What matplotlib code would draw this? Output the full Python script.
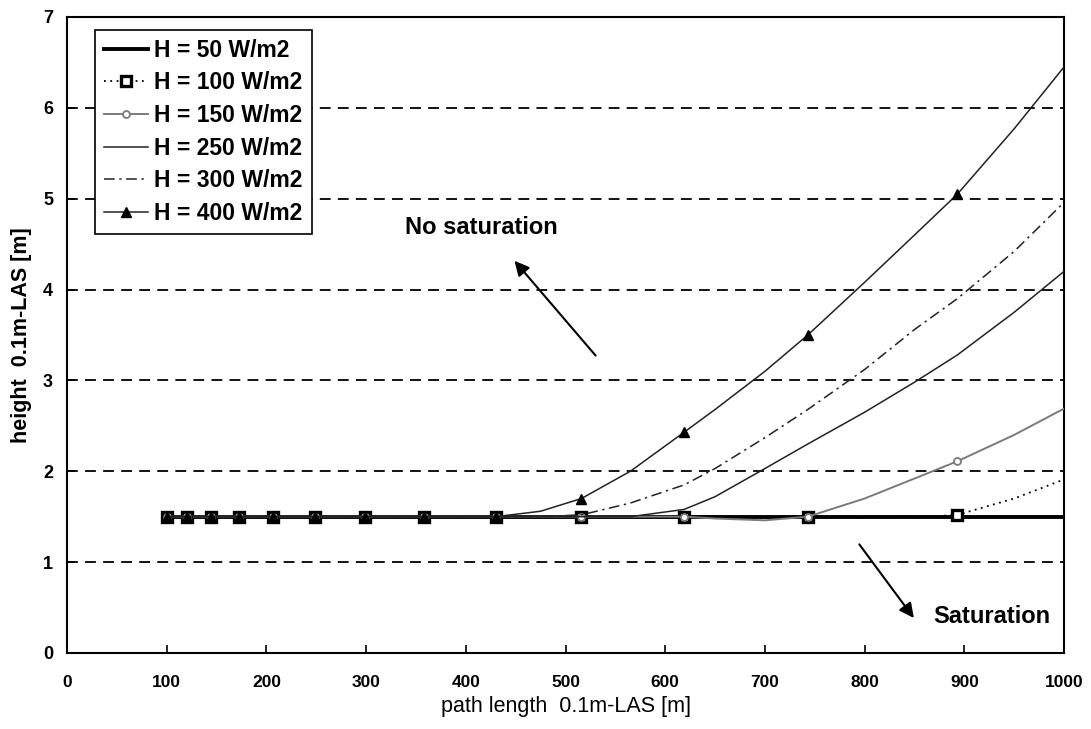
import matplotlib
matplotlib.use("Agg")
import matplotlib.pyplot as plt

# path length grid [m] (markers sit on the 1.2-ratio points)
path = [100, 120, 144, 173, 207, 249, 299, 358, 430, 475, 516, 565, 619,
        650, 700, 743, 800, 850, 893, 950, 1000]
marker_idx = [0, 1, 2, 3, 4, 5, 6, 7, 8, 10, 12, 15, 18]

flat = [1.5] * 9
h50 = flat + [1.5, 1.5, 1.5, 1.5, 1.5, 1.5, 1.5, 1.5, 1.5, 1.5, 1.5, 1.5]
h100 = flat + [1.5, 1.5, 1.5, 1.5, 1.5, 1.5, 1.5, 1.49, 1.49, 1.52, 1.7, 1.91]
h150 = flat + [1.5, 1.5, 1.5, 1.5, 1.48, 1.46, 1.5, 1.7, 1.92, 2.11, 2.4, 2.69]
h250 = flat + [1.5, 1.5, 1.5, 1.58, 1.72, 2.03, 2.3, 2.65, 2.98, 3.28, 3.75, 4.2]
h300 = flat + [1.5, 1.52, 1.65, 1.85, 2.03, 2.37, 2.68, 3.12, 3.56, 3.9, 4.42, 4.96]
h400 = flat + [1.56, 1.7, 2.0, 2.43, 2.68, 3.1, 3.5, 4.08, 4.6, 5.05, 5.77, 6.45]

labels = ['H = 50 W/m2', 'H = 100 W/m2', 'H = 150 W/m2',
          'H = 250 W/m2', 'H = 300 W/m2', 'H = 400 W/m2']

plt.rcParams['font.family'] = ['Liberation Sans', 'DejaVu Sans']

fig = plt.figure(figsize=(10.91, 7.29), dpi=100)
ax = fig.add_axes([0.0614, 0.1043, 0.9139, 0.8724])

# horizontal dashed grid
for g in range(1, 7):
    ax.axhline(g, color='black', lw=1.3, ls=(0, (6, 4)), zorder=1)

ax.plot(path, h50, color='black', lw=2.8, label=labels[0], zorder=3)
ax.plot(path, h100, color='black', lw=1.3, ls=(0, (1, 2.5)), marker='s', ms=7.5,
        mfc='white', mec='black', mew=2.4, markevery=marker_idx, label=labels[1], zorder=4)
ax.plot(path, h150, color='#7a7a7a', lw=1.4, marker='o', ms=5,
        mfc='white', mec='#7a7a7a', mew=1.3, markevery=marker_idx, label=labels[2], zorder=4)
ax.plot(path, h250, color='#222222', lw=1.1, label=labels[3], zorder=4)
ax.plot(path, h300, color='#222222', lw=1.1, ls=(0, (7, 3, 1.5, 3)), label=labels[4], zorder=4)
ax.plot(path, h400, color='#222222', lw=1.1, marker='^', ms=7,
        mfc='black', mec='black', markevery=marker_idx, label=labels[5], zorder=5)

ax.set_xlim(0, 1000)
ax.set_ylim(0, 7)
ax.set_xticks(range(0, 1001, 100))
ax.set_yticks(range(0, 8))
ax.tick_params(axis='x', direction='in', length=6, width=1.2, pad=16, labelsize=12.5)
ax.tick_params(axis='y', direction='in', length=6, width=1.2, pad=10, labelsize=13)
for t in ax.get_xticklabels() + ax.get_yticklabels():
    t.set_fontweight('bold')
for s in ax.spines.values():
    s.set_linewidth(1.5)

ax.set_xlabel('path length  0.1m-LAS [m]', fontsize=15.5, labelpad=4)
ax.set_ylabel('height  0.1m-LAS [m]', fontsize=15.5, labelpad=8, fontweight='bold')

leg = ax.legend(loc='upper left', bbox_to_anchor=(0.028, 0.98),
                prop={'weight': 'bold', 'size': 16.5}, frameon=True, fancybox=False,
                framealpha=1, edgecolor='black', handlelength=1.9, handletextpad=0.3,
                labelspacing=0.42, borderpad=0.4, borderaxespad=0)
leg.get_frame().set_linewidth(1.2)
leg.set_zorder(6)

ax.annotate('', xy=(447, 4.34), xytext=(532, 3.25),
            arrowprops=dict(arrowstyle='-|>', lw=1.5, color='black', mutation_scale=22))
ax.text(416, 4.68, 'No saturation', fontsize=17, fontweight='bold',
        ha='center', va='center')
ax.annotate('', xy=(851, 0.36), xytext=(793, 1.22),
            arrowprops=dict(arrowstyle='-|>', lw=1.5, color='black', mutation_scale=22))
ax.text(928, 0.40, 'Saturation', fontsize=17, fontweight='bold',
        ha='center', va='center')

fig.savefig('out.png', dpi=100)
